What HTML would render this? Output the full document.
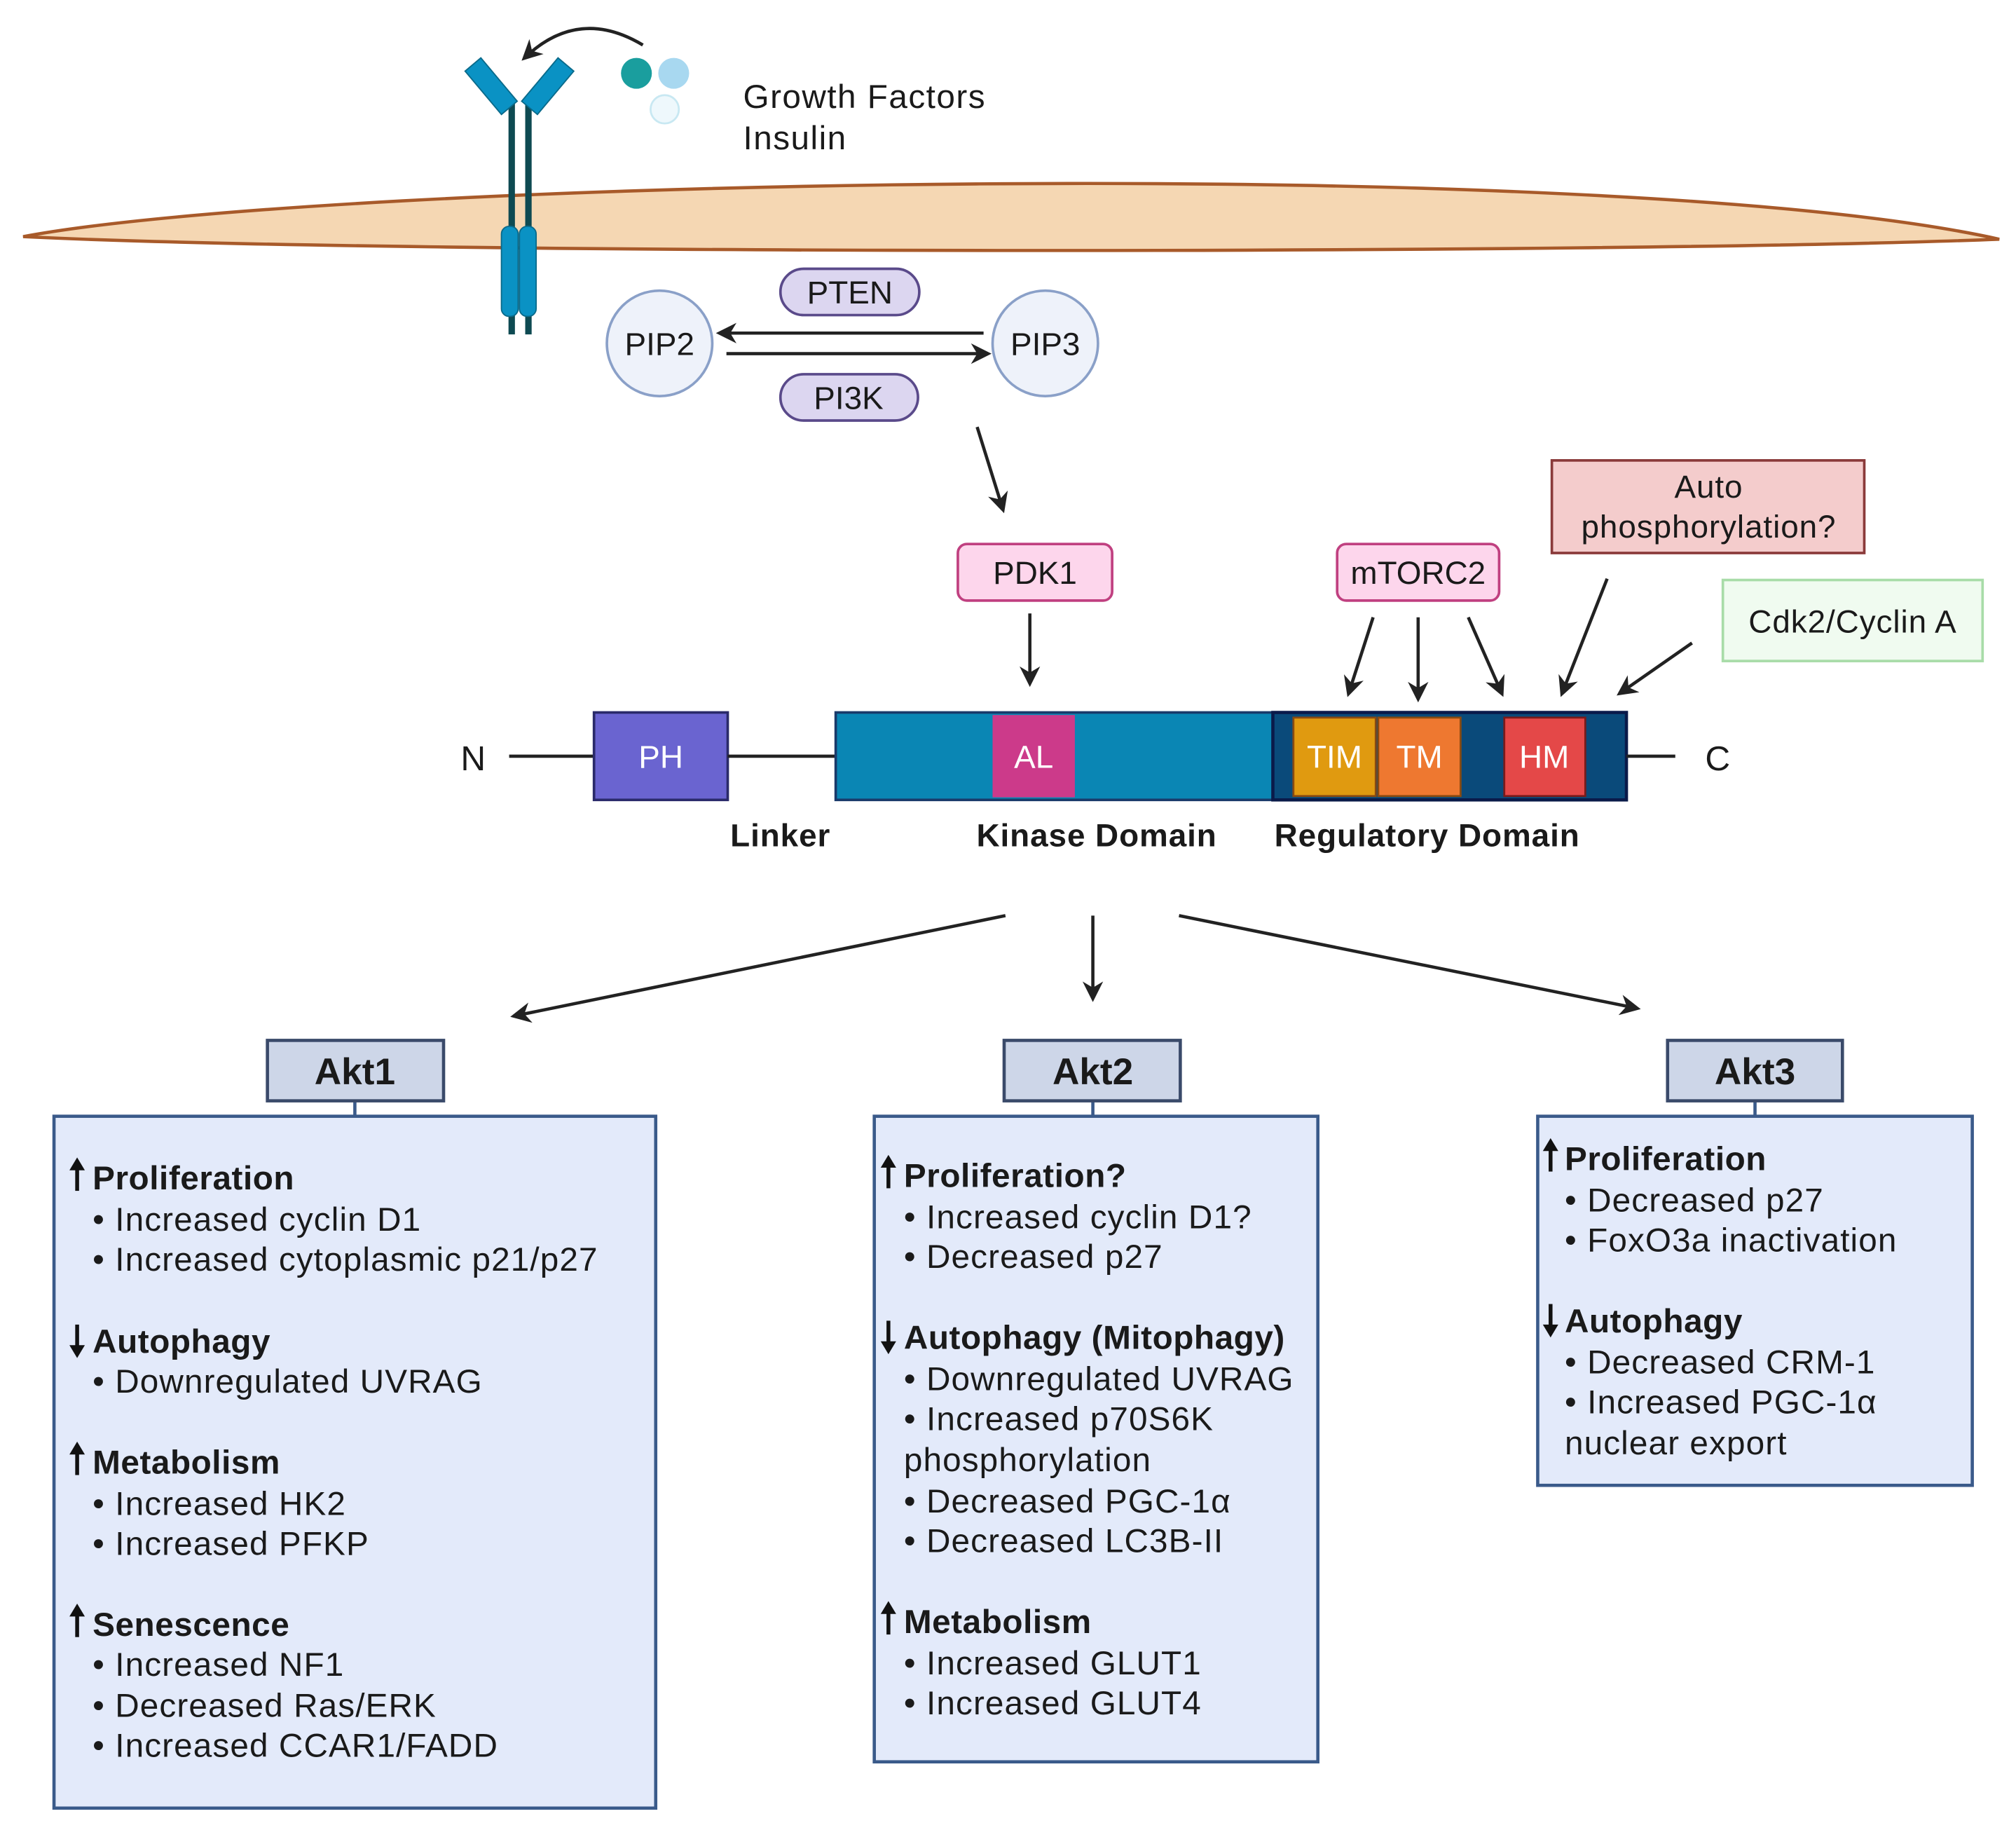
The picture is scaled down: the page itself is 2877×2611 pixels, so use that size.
<!DOCTYPE html>
<html><head><meta charset="utf-8"><style>
html,body{margin:0;padding:0;background:#fff}
svg{display:block}
text{font-family:"Liberation Sans",sans-serif;fill:#1a1a1a}
.b{font-weight:bold}
.t{font-size:26px;letter-spacing:0.6px}
.h{font-size:26px;font-weight:bold;letter-spacing:0.3px}
.d{font-size:25px;font-weight:bold;letter-spacing:0.5px}
</style></head><body>
<svg width="2877" height="2611" viewBox="0 0 1568 1423" xmlns="http://www.w3.org/2000/svg">
<defs>
<marker id="a" viewBox="0 0 10 10" refX="8" refY="5" markerWidth="16" markerHeight="16" markerUnits="userSpaceOnUse" orient="auto"><path d="M0,0 L10,5 L0,10 L3,5 Z" fill="#222"/></marker>
<g id="up"><line x1="0" y1="5" x2="0" y2="26" stroke="#111" stroke-width="3"/><path d="M-6,10 L0,0 L6,10 Z" fill="#111"/></g>
<g id="dn"><line x1="0" y1="0" x2="0" y2="21" stroke="#111" stroke-width="3"/><path d="M-6,16 L0,26 L6,16 Z" fill="#111"/></g>
</defs>

<path d="M18,184 C 250,140 1250,118 1555,186 C 1250,198 300,198 18,184 Z" fill="#f5d7b3" stroke="#a85a2a" stroke-width="2.5"/>

<line x1="398" y1="80" x2="398" y2="260" stroke="#0e4a52" stroke-width="5"/>
<line x1="411" y1="80" x2="411" y2="260" stroke="#0e4a52" stroke-width="5"/>
<rect x="390" y="176" width="13" height="70" rx="6" fill="#0a92c4" stroke="#0a6a8a"/>
<rect x="404" y="176" width="13" height="70" rx="6" fill="#0a92c4" stroke="#0a6a8a"/>
<rect x="-8" y="-22" width="16" height="44" fill="#0a92c4" stroke="#0a6a8a" transform="translate(382,67) rotate(-40)"/>
<rect x="-8" y="-22" width="16" height="44" fill="#0a92c4" stroke="#0a6a8a" transform="translate(426,67) rotate(40)"/>
<path d="M500,35 Q 450,5 408,45" fill="none" stroke="#222" stroke-width="2.5" marker-end="url(#a)"/>
<circle cx="495" cy="57" r="12" fill="#1a9e9e"/>
<circle cx="524" cy="57" r="12" fill="#a8d8f0"/>
<circle cx="517" cy="85" r="11" fill="#eef8fc" stroke="#c8e8f2" stroke-width="1.5"/>
<text x="578" y="84" style="font-size:26px;letter-spacing:0.8px">Growth Factors</text>
<text x="578" y="116" style="font-size:26px;letter-spacing:0.8px">Insulin</text>

<rect x="607" y="209" width="108" height="36" rx="18" fill="#dcd6f0" stroke="#5a4a8a" stroke-width="2"/>
<text x="661" y="236" text-anchor="middle" style="font-size:25px">PTEN</text>
<rect x="607" y="291" width="107" height="36" rx="18" fill="#dcd6f0" stroke="#5a4a8a" stroke-width="2"/>
<text x="660" y="318" text-anchor="middle" style="font-size:25px">PI3K</text>
<circle cx="513" cy="267" r="41" fill="#eef2fa" stroke="#8aa0c8" stroke-width="2"/>
<text x="513" y="276" text-anchor="middle" style="font-size:25px">PIP2</text>
<circle cx="813" cy="267" r="41" fill="#eef2fa" stroke="#8aa0c8" stroke-width="2"/>
<text x="813" y="276" text-anchor="middle" style="font-size:25px">PIP3</text>
<line x1="765" y1="259" x2="560" y2="259" stroke="#222" stroke-width="2.5" marker-end="url(#a)"/>
<line x1="565" y1="275" x2="768" y2="275" stroke="#222" stroke-width="2.5" marker-end="url(#a)"/>
<line x1="760" y1="332" x2="780" y2="396" stroke="#222" stroke-width="2.5" marker-end="url(#a)"/>

<rect x="745" y="423" width="120" height="44" rx="7" fill="#fdd6ec" stroke="#c04080" stroke-width="2"/>
<text x="805" y="454" text-anchor="middle" style="font-size:25px">PDK1</text>
<line x1="801" y1="477" x2="801" y2="531" stroke="#222" stroke-width="2.5" marker-end="url(#a)"/>
<rect x="1040" y="423" width="126" height="44" rx="7" fill="#fdd6ec" stroke="#c04080" stroke-width="2"/>
<text x="1103" y="454" text-anchor="middle" style="font-size:25px">mTORC2</text>
<line x1="1068" y1="480" x2="1049" y2="539" stroke="#222" stroke-width="2.5" marker-end="url(#a)"/>
<line x1="1103" y1="480" x2="1103" y2="543" stroke="#222" stroke-width="2.5" marker-end="url(#a)"/>
<line x1="1142" y1="480" x2="1168" y2="539" stroke="#222" stroke-width="2.5" marker-end="url(#a)"/>
<rect x="1207" y="358" width="243" height="72" fill="#f4cccc" stroke="#8a3a3a" stroke-width="2"/>
<text x="1329" y="387" text-anchor="middle" style="font-size:25px;letter-spacing:0.5px">Auto</text>
<text x="1329" y="418" text-anchor="middle" style="font-size:25px;letter-spacing:0.5px">phosphorylation?</text>
<line x1="1250" y1="450" x2="1215" y2="539" stroke="#222" stroke-width="2.5" marker-end="url(#a)"/>
<rect x="1340" y="451" width="202" height="63" fill="#f0fbf0" stroke="#a8dca8" stroke-width="2"/>
<text x="1441" y="492" text-anchor="middle" style="font-size:25px;letter-spacing:0.5px">Cdk2/Cyclin A</text>
<line x1="1316" y1="500" x2="1260" y2="539" stroke="#222" stroke-width="2.5" marker-end="url(#a)"/>

<text x="368" y="599" text-anchor="middle" style="font-size:27px">N</text>
<line x1="396" y1="588" x2="462" y2="588" stroke="#222" stroke-width="2.5"/>
<rect x="462" y="554" width="104" height="68" fill="#6a64d0" stroke="#2a2a6a" stroke-width="2"/>
<text x="514" y="597" text-anchor="middle" style="font-size:25px;fill:#fff">PH</text>
<line x1="566" y1="588" x2="650" y2="588" stroke="#222" stroke-width="2.5"/>
<rect x="650" y="554" width="340" height="68" fill="#0a86b4" stroke="#1a3a6a" stroke-width="2"/>
<rect x="772" y="556" width="64" height="64" fill="#cc3a8a"/>
<text x="804" y="597" text-anchor="middle" style="font-size:25px;fill:#fff">AL</text>
<rect x="990" y="554" width="275" height="68" fill="#0a4a7a" stroke="#0a1a4a" stroke-width="2.5"/>
<rect x="1006" y="558" width="64" height="61" fill="#e09a10" stroke="#8a4a10" stroke-width="1.5"/>
<rect x="1072" y="558" width="64" height="61" fill="#ee7830" stroke="#8a4a10" stroke-width="1.5"/>
<rect x="1170" y="558" width="63" height="61" fill="#e44848" stroke="#7a1a1a" stroke-width="1.5"/>
<text x="1038" y="597" text-anchor="middle" style="font-size:25px;fill:#fff">TIM</text>
<text x="1104" y="597" text-anchor="middle" style="font-size:25px;fill:#fff">TM</text>
<text x="1201" y="597" text-anchor="middle" style="font-size:25px;fill:#fff">HM</text>
<line x1="1265" y1="588" x2="1303" y2="588" stroke="#222" stroke-width="2.5"/>
<text x="1336" y="599" text-anchor="middle" style="font-size:27px">C</text>
<text x="607" y="658" text-anchor="middle" class="d">Linker</text>
<text x="853" y="658" text-anchor="middle" class="d">Kinase Domain</text>
<text x="1110" y="658" text-anchor="middle" class="d">Regulatory Domain</text>

<line x1="782" y1="712" x2="400" y2="790" stroke="#222" stroke-width="2.5" marker-end="url(#a)"/>
<line x1="850" y1="712" x2="850" y2="776" stroke="#222" stroke-width="2.5" marker-end="url(#a)"/>
<line x1="917" y1="712" x2="1273" y2="784" stroke="#222" stroke-width="2.5" marker-end="url(#a)"/>

<g stroke="#3a5a8a" stroke-width="2.5">
<line x1="276" y1="856" x2="276" y2="868"/><line x1="850" y1="856" x2="850" y2="868"/><line x1="1365" y1="856" x2="1365" y2="868"/>
<rect x="42" y="868" width="468" height="538" fill="#e3eafa"/>
<rect x="680" y="868" width="345" height="502" fill="#e3eafa"/>
<rect x="1196" y="868" width="338" height="287" fill="#e3eafa"/>
<rect x="208" y="809" width="137" height="47" fill="#cdd6e8" stroke="#3a4a6a"/>
<rect x="781" y="809" width="137" height="47" fill="#cdd6e8" stroke="#3a4a6a"/>
<rect x="1297" y="809" width="136" height="47" fill="#cdd6e8" stroke="#3a4a6a"/>
</g>
<text x="276" y="843" text-anchor="middle" class="b" style="font-size:29px">Akt1</text>
<text x="850" y="843" text-anchor="middle" class="b" style="font-size:29px">Akt2</text>
<text x="1365" y="843" text-anchor="middle" class="b" style="font-size:29px">Akt3</text>

<use href="#up" x="60" y="900"/>
<text x="72" y="925" class="h">Proliferation</text>
<text x="72" y="957" class="t">• Increased cyclin D1</text>
<text x="72" y="988" class="t">• Increased cytoplasmic p21/p27</text>
<use href="#dn" x="60" y="1030"/>
<text x="72" y="1052" class="h">Autophagy</text>
<text x="72" y="1083" class="t">• Downregulated UVRAG</text>
<use href="#up" x="60" y="1121"/>
<text x="72" y="1146" class="h">Metabolism</text>
<text x="72" y="1178" class="t">• Increased HK2</text>
<text x="72" y="1209" class="t">• Increased PFKP</text>
<use href="#up" x="60" y="1247"/>
<text x="72" y="1272" class="h">Senescence</text>
<text x="72" y="1303" class="t">• Increased NF1</text>
<text x="72" y="1335" class="t">• Decreased Ras/ERK</text>
<text x="72" y="1366" class="t">• Increased CCAR1/FADD</text>

<use href="#up" x="691" y="898"/>
<text x="703" y="923" class="h">Proliferation?</text>
<text x="703" y="955" class="t">• Increased cyclin D1?</text>
<text x="703" y="986" class="t">• Decreased p27</text>
<use href="#dn" x="691" y="1027"/>
<text x="703" y="1049" class="h">Autophagy (Mitophagy)</text>
<text x="703" y="1081" class="t">• Downregulated UVRAG</text>
<text x="703" y="1112" class="t">• Increased p70S6K</text>
<text x="703" y="1144" class="t">phosphorylation</text>
<text x="703" y="1176" class="t">• Decreased PGC-1α</text>
<text x="703" y="1207" class="t">• Decreased LC3B-II</text>
<use href="#up" x="691" y="1245"/>
<text x="703" y="1270" class="h">Metabolism</text>
<text x="703" y="1302" class="t">• Increased GLUT1</text>
<text x="703" y="1333" class="t">• Increased GLUT4</text>

<use href="#up" x="1206" y="885"/>
<text x="1217" y="910" class="h">Proliferation</text>
<text x="1217" y="942" class="t">• Decreased p27</text>
<text x="1217" y="973" class="t">• FoxO3a inactivation</text>
<use href="#dn" x="1206" y="1014"/>
<text x="1217" y="1036" class="h">Autophagy</text>
<text x="1217" y="1068" class="t">• Decreased CRM-1</text>
<text x="1217" y="1099" class="t">• Increased PGC-1α</text>
<text x="1217" y="1131" class="t">nuclear export</text>
</svg>
</body></html>
